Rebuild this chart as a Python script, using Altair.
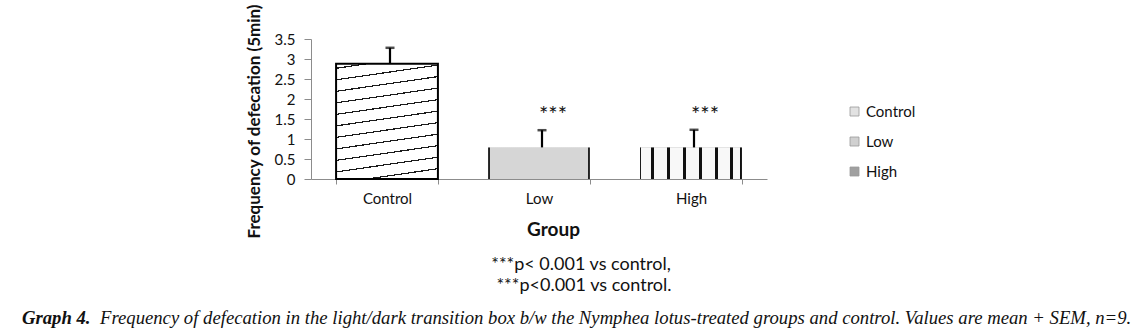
import altair as alt
import pandas as pd

# ---- data ----
groups = ["Control", "Low", "High"]
means = [2.88, 0.79, 0.79]
sems = [0.40, 0.43, 0.44]
stars = ["", "***", "***"]
legend_colors = ["#e2e2e2", "#d0d0d0", "#a0a0a0"]
y_ticks = [0, 0.5, 1, 1.5, 2, 2.5, 3, 3.5]

y_title = "Frequency of defecation (5min)"
x_title = "Group"
footnote1 = "***p< 0.001 vs control,"
footnote2 = "***p<0.001 vs control."
caption_head = "Graph 4."
caption_body = ("Frequency of defecation in the light/dark transition box b/w the Nymphea "
                "lotus-treated groups and control. Values are mean + SEM, n=9.")

df = pd.DataFrame({"Group": groups, "Mean": means, "SEM": sems, "Star": stars})
df["Top"] = df["Mean"] + df["SEM"]

FONT = "Lato"
AXIS_GREY = "#8c8c8c"


def stripe_stops(intervals, bg, fg):
    stops = []
    if intervals[0][0] > 0:
        stops.append(alt.GradientStop(offset=0, color=bg))
    for s, e in intervals:
        stops += [alt.GradientStop(offset=s, color=bg), alt.GradientStop(offset=s, color=fg),
                  alt.GradientStop(offset=e, color=fg), alt.GradientStop(offset=e, color=bg)]
    if intervals[-1][1] < 1:
        stops.append(alt.GradientStop(offset=1, color=bg))
    return stops


# diagonal hatching for Control
ctrl_int = []
t = 0.03
while t + 0.009 < 1:
    ctrl_int.append((round(t, 4), round(t + 0.009, 4)))
    t += 0.0886
ctrl_fill = alt.LinearGradient(gradient="linear", x1=0, y1=0, x2=0.142, y2=1.11,
                               stops=stripe_stops(ctrl_int, "#ffffff", "#1a1a1a"))

# low: light grey with dark side edges
low_fill = alt.LinearGradient(gradient="linear", x1=0, y1=0, x2=1, y2=0,
                              stops=stripe_stops([(0, 0.015), (0.985, 1)], "#d6d6d6", "#222222"))

# high: vertical stripes
high_starts = [0.11, 0.265, 0.417, 0.58, 0.733, 0.88]
high_int = [(0, 0.013)] + [(s, s + 0.03) for s in high_starts] + [(0.985, 1)]
high_fill = alt.LinearGradient(gradient="linear", x1=0, y1=0, x2=1, y2=0,
                               stops=stripe_stops(high_int, "#f8f8f8", "#111111"))

xaxis = alt.Axis(title=x_title, labelAngle=0, tickBand="extent", tickSize=5,
                 domainColor=AXIS_GREY, tickColor=AXIS_GREY,
                 labelFont=FONT, labelFontSize=15, labelColor="#111111", labelPadding=7,
                 titleFont=FONT, titleFontSize=19, titleFontWeight="bold",
                 titleColor="#111111", titleX=242, titleY=50, titleBaseline="middle",
                 titleAlign="center")
xscale = alt.Scale(paddingInner=0.33, paddingOuter=0.165)
yscale = alt.Scale(domain=[0, 3.5], nice=False, zero=True)
yaxis = alt.Axis(values=y_ticks, format="~g", domain=True, domainColor=AXIS_GREY,
                 ticks=True, tickColor=AXIS_GREY, tickSize=7, grid=False,
                 labelOverlap=False, labelFont=FONT, labelFontSize=15,
                 labelColor="#111111", labelPadding=9,
                 title=y_title, titleFont=FONT, titleFontSize=17, titleFontWeight="bold",
                 titleColor="#111111", titleX=-57, titleY=82, titleAlign="center",
                 titleBaseline="middle", titleAngle=270)


def X():
    return alt.X("Group:N", sort=groups, scale=xscale, axis=xaxis)


def Y(field):
    return alt.Y(field, scale=yscale, axis=yaxis, title=y_title)


base = alt.Chart(df)

bars = base.mark_bar().encode(
    x=X(), y=Y("Mean:Q"),
    color=alt.Color("Group:N", sort=groups,
                    scale=alt.Scale(domain=groups, range=legend_colors),
                    legend=alt.Legend(title=None, orient="none", legendX=536, legendY=65,
                                      symbolType="square", symbolSize=81,
                                      symbolStrokeColor="#9a9a9a", symbolStrokeWidth=0.8,
                                      labelFont=FONT, labelFontSize=15, labelColor="#111111",
                                      labelOffset=4, rowPadding=14, padding=0)),
)

ctrl_bar = base.transform_filter(alt.datum.Group == "Control").mark_bar(
    fill=ctrl_fill, stroke="#000000", strokeWidth=2).encode(x=X(), y=Y("Mean:Q"))
low_bar = base.transform_filter(alt.datum.Group == "Low").mark_bar(
    fill=low_fill).encode(x=X(), y=Y("Mean:Q"))
high_bar = base.transform_filter(alt.datum.Group == "High").mark_bar(
    fill=high_fill).encode(x=X(), y=Y("Mean:Q"))

err = base.mark_rule(color="#000000", strokeWidth=2.2, xOffset=3).encode(
    x=X(), y=Y("Mean:Q"), y2="Top:Q")
cap = base.mark_tick(color="#000000", thickness=2.5, size=9, xOffset=3).encode(
    x=X(), y=Y("Top:Q"))
star_txt = base.mark_text(font=FONT, fontSize=22, dx=14, dy=-15, fill="#111111").encode(
    x=X(), y=Y("Top:Q"), text="Star:N")

fn1 = alt.Chart(pd.DataFrame({"t": [footnote1]})).mark_text(
    font=FONT, fontSize=18, fill="#111111", align="center", baseline="middle").encode(
    x=alt.value(270), y=alt.value(226), text="t:N")
fn2 = alt.Chart(pd.DataFrame({"t": [footnote2]})).mark_text(
    font=FONT, fontSize=18, fill="#111111", align="center", baseline="middle").encode(
    x=alt.value(273), y=alt.value(247), text="t:N")
cap1 = alt.Chart(pd.DataFrame({"t": [caption_head]})).mark_text(
    font="Liberation Serif", fontSize=18.7, fontStyle="italic", fontWeight="bold",
    fill="#111111", align="left", baseline="middle").encode(
    x=alt.value(-289), y=alt.value(279), text="t:N")
cap2 = alt.Chart(pd.DataFrame({"t": [caption_body]})).mark_text(
    font="Liberation Serif", fontSize=18.7, fontStyle="italic",
    fill="#111111", align="left", baseline="middle").encode(
    x=alt.value(-211), y=alt.value(279), text="t:N")

chart = alt.layer(bars, ctrl_bar, low_bar, high_bar, err, cap, star_txt,
                  fn1, fn2, cap1, cap2).properties(
    width=456, height=140,
    padding={"left": 311, "top": 39, "right": 371, "bottom": 155},
    autosize=alt.AutoSizeParams(type="none"),
    background="#ffffff",
).configure_view(stroke=None)

chart.save("out.html", embed_options={"renderer": "svg", "actions": False})
